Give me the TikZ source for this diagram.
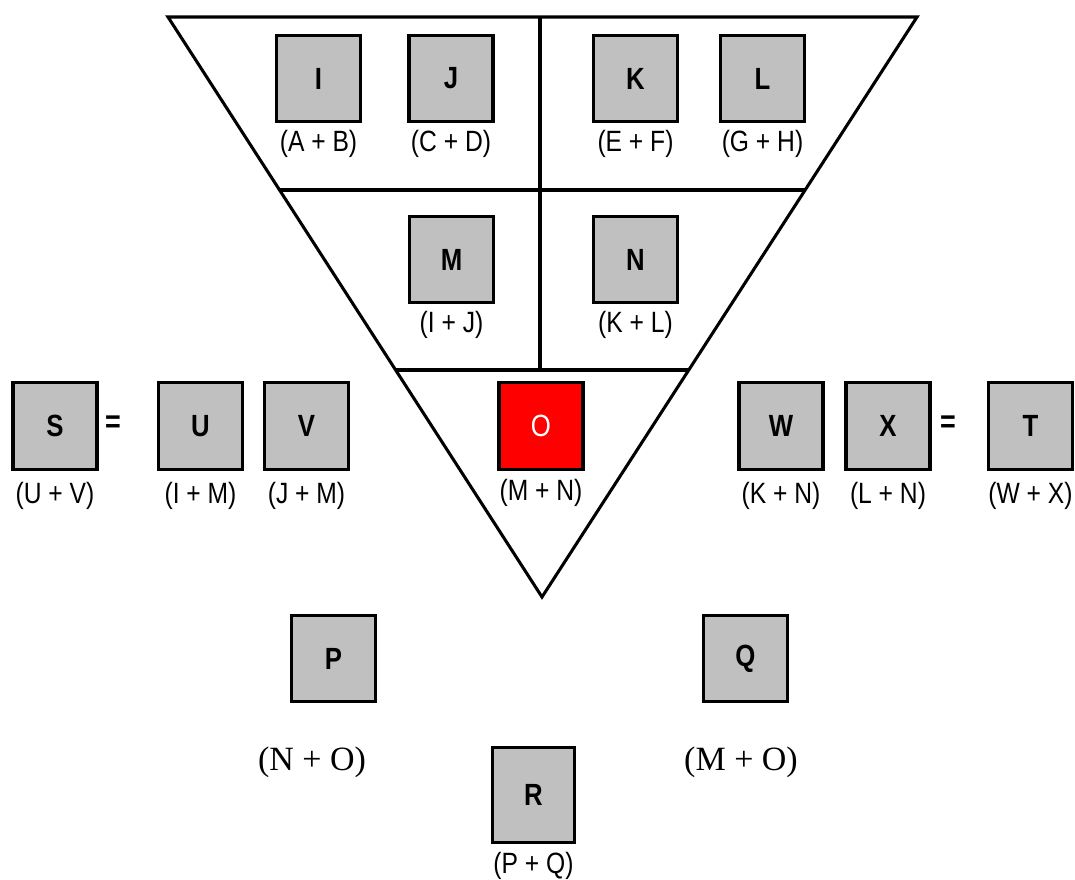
\documentclass[tikz,border=0pt]{standalone}
\usepackage{fontspec}
\usetikzlibrary{calc}
\newfontfamily\narrowsans[FakeStretch=0.84]{Liberation Sans}
\newfontfamily\serifrm{Liberation Serif}
\definecolor{boxgray}{HTML}{C0C0C0}
\definecolor{boxred}{HTML}{FF0000}
\tikzset{
  cell/.style={draw=black, line width=2.3pt, fill=boxgray, minimum width=63pt, minimum height=65pt, inner sep=0pt,
    font=\narrowsans\bfseries\fontsize{23}{23}\selectfont},
  redcell/.style={cell, fill=boxred, text=white, font=\narrowsans\fontsize{23}{23}\selectfont},
  lab/.style={inner sep=0pt, font=\narrowsans\fontsize{22}{22}\selectfont},
  slab/.style={inner sep=0pt, font=\serifrm\fontsize{25.5}{25.5}\selectfont},
  eqs/.style={inner sep=0pt, font=\narrowsans\bfseries\fontsize{24}{24}\selectfont},
  frame/.style={line width=2.3pt, line join=miter}
}
\begin{document}
\begin{tikzpicture}[x=0.75pt,y=-0.75pt]
\useasboundingbox (0,0) rectangle (1075,879);
% triangle
\coordinate (tl) at (168,17);
\coordinate (tr) at (917,17);
\coordinate (ap) at (542,597);
\coordinate (tm) at (540,17);
\draw[frame] (tl) -- (tr) -- (ap) -- cycle;
\coordinate (l1) at ($(tl)!0.2983!(ap)$);
\coordinate (r1) at ($(tr)!0.2983!(ap)$);
\coordinate (l2) at ($(tl)!0.6086!(ap)$);
\coordinate (r2) at ($(tr)!0.6086!(ap)$);
\coordinate (vm) at (540,370);
\draw[frame] (l1) -- (r1);
\draw[frame] (l2) -- (r2);
\draw[frame] (tm) -- (vm);
% boxes
\node[cell] (I) at (318.5,78.5) {I};
\node[cell] (J) at (451,78.5) {J};
\node[cell] (K) at (635.5,78.5) {K};
\node[cell] (L) at (762.5,78.5) {L};
\node[cell] (M) at (451.5,259.5) {M};
\node[cell] (N) at (635.5,259.5) {N};
\node[redcell] (O) at (541,426) {O};
\node[cell] (S) at (55,426) {S};
\node[cell] (U) at (200.5,426) {U};
\node[cell] (V) at (306.5,426) {V};
\node[cell] (W) at (781,426) {W};
\node[cell] (X) at (888,426) {X};
\node[cell] (T) at (1030.5,426) {T};
\node[cell] (P) at (333.5,658.5) {P};
\node[cell] (Q) at (745.5,658.5) {Q};
\node[cell, minimum width=62pt, minimum height=71pt] (R) at (533.5,795) {R};
% equals
\node[eqs] (eq1) at (113,424) {=};
\node[eqs] (eq2) at (948,424) {=};
% labels
\node[lab] (Il) at ($(I.south)+(0,21)$) {(A + B)};
\node[lab] (Jl) at ($(J.south)+(0,21)$) {(C + D)};
\node[lab] (Kl) at ($(K.south)+(0,21)$) {(E + F)};
\node[lab] (Ll) at ($(L.south)+(0,21)$) {(G + H)};
\node[lab] (Ml) at ($(M.south)+(0,21)$) {(I + J)};
\node[lab] (Nl) at ($(N.south)+(0,21)$) {(K + L)};
\node[lab] (Ol) at ($(O.south)+(0,22)$) {(M + N)};
\node[lab] (Sl) at ($(S.south)+(0,25)$) {(U + V)};
\node[lab] (Ul) at ($(U.south)+(0,25)$) {(I + M)};
\node[lab] (Vl) at ($(V.south)+(0,25)$) {(J + M)};
\node[lab] (Wl) at ($(W.south)+(0,25)$) {(K + N)};
\node[lab] (Xl) at ($(X.south)+(0,25)$) {(L + N)};
\node[lab] (Tl) at ($(T.south)+(0,25)$) {(W + X)};
\node[lab] (Rl) at ($(R.south)+(0,22)$) {(P + Q)};
\node[slab] (Pl) at (312,762) {(N + O)};
\node[slab] (Ql) at (741,762) {(M + O)};
\end{tikzpicture}
\end{document}
